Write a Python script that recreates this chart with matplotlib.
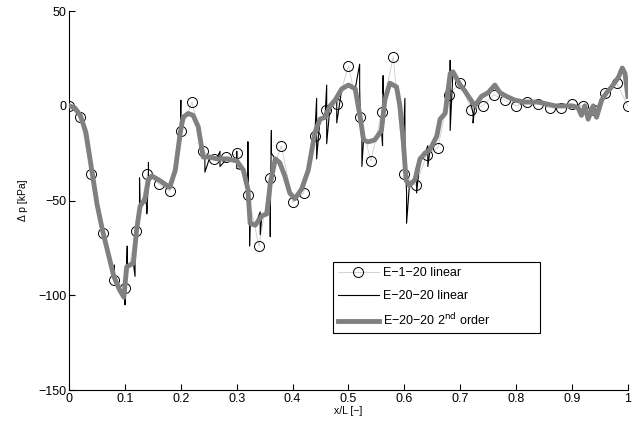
import matplotlib.pyplot as plt
import matplotlib.ticker as mticker

plt.rcParams['font.family'] = ['Liberation Sans', 'DejaVu Sans']
plt.rcParams['axes.unicode_minus'] = True

# E-1-20 linear (nodal values, circles)
x_e1 = [0.00, 0.02, 0.04, 0.06, 0.08, 0.10, 0.12, 0.14, 0.16, 0.18,
        0.20, 0.22, 0.24, 0.26, 0.28, 0.30, 0.32, 0.34, 0.36, 0.38,
        0.40, 0.42, 0.44, 0.46, 0.48, 0.50, 0.52, 0.54, 0.56, 0.58,
        0.60, 0.62, 0.64, 0.66, 0.68, 0.70, 0.72, 0.74, 0.76, 0.78,
        0.80, 0.82, 0.84, 0.86, 0.88, 0.90, 0.92, 0.94, 0.96, 0.98, 1.00]
p_e1 = [0, -6, -36, -67, -92, -96, -66, -36, -41, -45,
        -13, 2, -24, -28, -27, -25, -47, -74, -38, -21,
        -51, -46, -16, -2, 1, 21, -6, -29, -3, 26,
        -36, -42, -26, -22, 6, 12, -2, 0, 6, 3,
        0, 2, 1, -1, -1, 1, 0, -2, 7, 12, 0]

# E-20-20 2nd order (smooth curve)
x_q = [0, 0.01, 0.02, 0.03, 0.04, 0.05, 0.06, 0.07, 0.08, 0.09, 0.098,
       0.103, 0.115, 0.121, 0.127, 0.136, 0.142, 0.148, 0.16, 0.18, 0.19,
       0.199, 0.204, 0.213, 0.222, 0.231, 0.24, 0.252, 0.264, 0.282, 0.30,
       0.312, 0.32, 0.324, 0.333, 0.345, 0.354, 0.36, 0.369, 0.377, 0.386,
       0.395, 0.404, 0.416, 0.428, 0.44, 0.449, 0.458, 0.467, 0.476, 0.488,
       0.50, 0.512, 0.521, 0.527, 0.535, 0.547, 0.559, 0.565, 0.574, 0.586,
       0.592, 0.598, 0.603, 0.609, 0.619, 0.628, 0.637, 0.646, 0.658, 0.664,
       0.673, 0.682, 0.687, 0.70, 0.708, 0.717, 0.726, 0.738, 0.75, 0.762,
       0.771, 0.783, 0.798, 0.816, 0.84, 0.87, 0.90, 0.911, 0.917, 0.923,
       0.929, 0.938, 0.944, 0.953, 0.962, 0.971, 0.983, 0.99, 0.995, 1.0]
p_q = [0, -1, -5, -14, -33, -52, -66, -78, -90, -97, -101,
       -85, -83, -65, -53, -49, -39, -37, -39, -43, -34,
       -14, -6, -4, -5, -11, -27, -27, -28, -28, -29,
       -34, -44, -62, -63, -58, -57, -41, -28, -30, -37,
       -46, -49, -44, -34, -14, -7, -6, 0, 3, 9,
       11, 9, -6, -18, -19, -18, -13, 3, 12, 10,
       0, -18, -39, -42, -39, -28, -25, -23, -16, -7,
       -4, 17, 18, 11, 8, 4, 0, 5, 7, 11,
       7, 5, 3, 2, 2, 0, 0, -1, -5, 0,
       -7, 0, -6, 3, 7, 10, 15, 20, 17, 5]

# E-20-20 linear: jumps at element interfaces (x, value left, value right)
x_jump = [0.081, 0.100, 0.104, 0.118, 0.126, 0.139, 0.142, 0.200, 0.243,
          0.270, 0.300, 0.320, 0.323, 0.342, 0.360, 0.362, 0.443, 0.461,
          0.479, 0.520, 0.524, 0.561, 0.562, 0.601, 0.604, 0.622, 0.642,
          0.682, 0.723]
p_left = [-84, -98, -74, -90, -52, -53, -30, 3, -27,
          -24, -24, -19, -62, -56, -69, -13, 4, 11,
          3, 22, -19, -21, 16, 4, -46, -32, -21,
          24, -4]
p_right = [-93, -105, -85, -82, -38, -57, -40, -11, -35,
           -32, -33, -34, -74, -68, -59, -25, -28, -20,
           -9, 10, -32, -17, 7, -40, -62, -46, -32,
           -13, -9]

# build linear curve: smooth points plus jump pairs, ordered along x
pts = [(x, 0, p) for x, p in zip(x_q, p_q)]
for x, a, b in zip(x_jump, p_left, p_right):
    pts.append((x, 1, a))
    pts.append((x, 2, b))
pts.sort()
x_lin = [p[0] for p in pts]
p_lin = [p[2] for p in pts]

fig, ax = plt.subplots(figsize=(6.4, 4.3), dpi=100)
fig.subplots_adjust(left=0.108, right=0.981, bottom=0.093, top=0.974)

ax.plot(x_e1, p_e1, color=(0.8, 0.8, 0.8), linewidth=0.6, marker='o',
        markersize=7.2, markerfacecolor='none', markeredgecolor='black',
        markeredgewidth=0.7, label='E\u22121\u221220 linear', zorder=2)
ax.plot(x_lin, p_lin, color='black', linewidth=0.8,
        label='E\u221220\u221220 linear', zorder=3)
ax.plot(x_q, p_q, color=(0.5, 0.5, 0.5), linewidth=3.5,
        label='E\u221220\u221220 2$^{\\rm nd}$ order', zorder=4)

ax.set_xlim(0, 1)
ax.set_ylim(-150, 50)
ax.set_xticks([0, 0.1, 0.2, 0.3, 0.4, 0.5, 0.6, 0.7, 0.8, 0.9, 1])
ax.set_yticks([-150, -100, -50, 0, 50])
ax.xaxis.set_major_formatter(mticker.FuncFormatter(lambda v, _: '%g' % v))
ax.yaxis.set_major_formatter(mticker.FuncFormatter(
    lambda v, _: ('%g' % v).replace('-', '\u2212')))
ax.tick_params(direction='in', length=4, width=0.8, labelsize=9, pad=2)
ax.spines['top'].set_visible(False)
ax.spines['right'].set_visible(False)

ax.set_xlabel('x/L [\u2212]', fontsize=7.5, labelpad=1)
ax.set_ylabel('\u0394 p [kPa]', fontsize=7.5, labelpad=7)

leg = ax.legend(loc='upper left', bbox_to_anchor=(0.472, 0.147, 0.37, 0.19),
                mode='expand', borderaxespad=0, fontsize=9,
                fancybox=False, framealpha=1, edgecolor='black',
                handlelength=3.3, borderpad=0.4, labelspacing=0.85,
                handletextpad=0.3)
leg.get_frame().set_linewidth(0.8)

plt.savefig('out.png', dpi=100)
